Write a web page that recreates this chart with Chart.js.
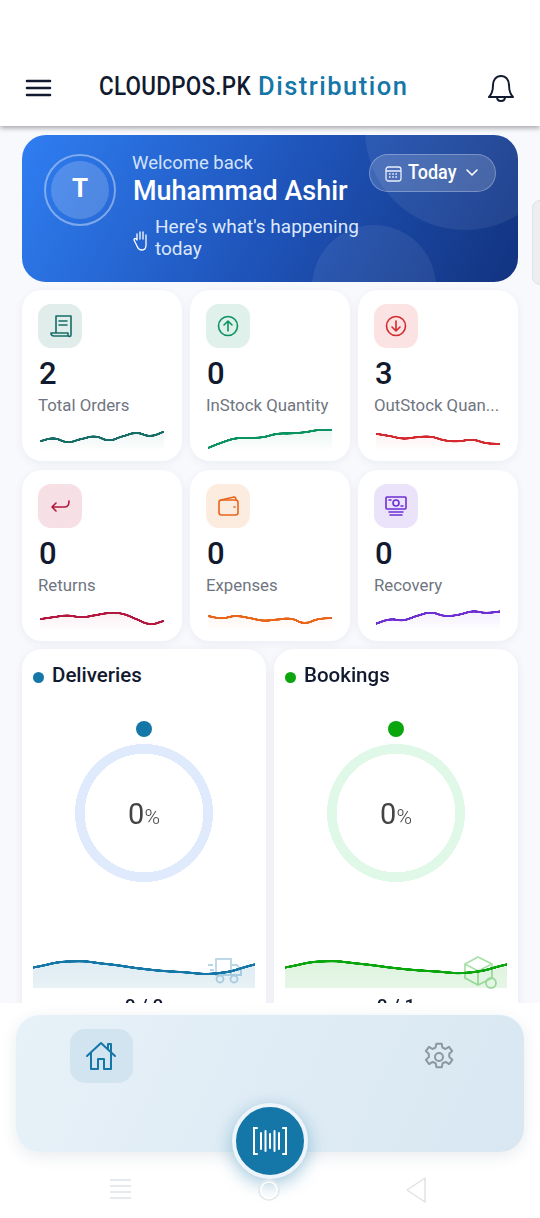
<!DOCTYPE html>
<html>
<head>
<meta charset="utf-8">
<title>CLOUDPOS.PK Distribution</title>
<script src="https://cdn.jsdelivr.net/npm/chart.js@4"></script>
<style>
  * { box-sizing: border-box; }
  html, body { margin: 0; padding: 0; }
  body {
    width: 540px; height: 1218px; position: relative; overflow: hidden;
    background: #f7f9fd; font-family: Roboto, sans-serif; color: #111a2e;
  }
  .abs, canvas { position: absolute; }
  .txt { position: absolute; white-space: nowrap; line-height: 1; }
  #topbar { left: 0; top: 0; width: 540px; height: 126px; background: #fff; box-shadow: 0 2px 5px rgba(0,0,0,.35); z-index: 3; }
  #hero {
    left: 22px; top: 135px; width: 496px; height: 147px; border-radius: 24px; overflow: hidden;
    background: linear-gradient(118deg, #2f7ef2 0%, #1f55bb 50%, #12337f 100%);
  }
  .blob { position: absolute; border-radius: 50%; background: rgba(255,255,255,.07); }
  .card { position: absolute; width: 160px; height: 171px; background: #fff; border-radius: 20px; box-shadow: 0 2px 10px rgba(20,30,70,.06); }
  .iconbox { position: absolute; left: 16px; top: 14px; width: 44px; height: 44px; border-radius: 13px; }
  .iconbox svg { position: absolute; left: 8px; top: 8px; }
  .wide { position: absolute; top: 649px; width: 244px; height: 400px; background: #fff; border-radius: 20px; box-shadow: 0 2px 10px rgba(20,30,70,.07); }
  #fade { left: 0; top: 1003px; width: 540px; height: 215px; background: #fff; z-index: 2; }
  #dock {
    left: 16px; top: 1015px; width: 508px; height: 137px; border-radius: 24px; z-index: 3;
    background: linear-gradient(115deg, #e7f1f8, #d8e7f2); box-shadow: 0 4px 16px rgba(30,60,100,.10);
  }
  #fab { left: 232px; top: 1103px; width: 76px; height: 76px; border-radius: 50%; background: #1576a8; border: 4px solid #eef5fa; box-shadow: 0 5px 18px rgba(21,118,168,.4); z-index: 4; }
</style>
</head>
<body>
<div id="topbar" class="abs">
  <svg class="abs" style="left:25px;top:78px" width="28" height="20" fill="none" stroke="#111a2e" stroke-width="2.6" stroke-linecap="round"><path d="M2 3h23M2 10h23M2 17h23"/></svg>
  <div class="txt" style="left:99px;top:74px;font-size:25.5px;font-weight:500;letter-spacing:.3px;transform:scaleX(.88);transform-origin:left">CLOUDPOS.PK</div>
  <div class="txt" style="left:258px;top:74px;font-size:25.5px;font-weight:500;letter-spacing:1.5px;color:#1576a8">Distribution</div>
  <svg class="abs" style="left:487px;top:73px" width="28" height="30" fill="none" stroke="#111a2e" stroke-width="2" stroke-linejoin="round"><path d="M14 3c-5 0-8 4-8 9 0 6-1 9-4 12h24c-3-3-4-6-4-12 0-5-3-9-8-9z"/><path d="M10 24c0 3 2 4 4 4s4-1 4-4"/></svg>
</div>

<div id="hero" class="abs">
  <div class="blob" style="left:343px;top:-105px;width:200px;height:200px"></div>
  <div class="blob" style="left:290px;top:90px;width:124px;height:124px"></div>
  <div class="abs" style="left:22px;top:19px;width:72px;height:72px;border-radius:50%;border:2px solid rgba(255,255,255,.4)"></div>
  <div class="abs" style="left:29px;top:26px;width:58px;height:58px;border-radius:50%;background:rgba(255,255,255,.18)"></div>
  <div class="txt" style="left:50px;top:40px;font-size:26px;font-weight:700;color:#fff;width:16px;text-align:center">T</div>
  <div class="txt" style="left:110px;top:19px;font-size:18.5px;color:#d3e2fb">Welcome back</div>
  <div class="txt" style="left:111px;top:42px;font-size:27.5px;font-weight:500;color:#fff;transform:scaleX(.98);transform-origin:left">Muhammad Ashir</div>
  <div class="txt" style="left:133px;top:82px;font-size:19px;color:#dce8fd">Here's what's happening</div>
  <div class="txt" style="left:133px;top:104px;font-size:19px;color:#dce8fd">today</div>
  <svg class="abs" style="left:111px;top:94px" width="16" height="22" fill="none" stroke="#fff" stroke-width="1.3" stroke-linecap="round" stroke-linejoin="round"><path d="M4 11V5M7 10V3M10 10V3M13 11V6M4 11c-1-2-3-2-3 0l3 6c1 3 3 4 5 4 3 0 4-2 4-5v-5"/></svg>
  <div class="abs" style="left:347px;top:19px;width:127px;height:38px;border-radius:19px;background:rgba(255,255,255,.16);border:1px solid rgba(255,255,255,.28)"></div>
  <svg class="abs" style="left:363px;top:30px" width="17" height="17" fill="none" stroke="#e8effc" stroke-width="1.3"><rect x="1" y="2" width="15" height="14" rx="2.5"/><path d="M1 6h15"/><path d="M4 9h9M4 12h9" stroke-dasharray="1.6 1.6"/></svg>
  <div class="txt" style="left:386px;top:27px;font-size:20px;font-weight:500;color:#fff;transform:scaleX(.9);transform-origin:left">Today</div>
  <svg class="abs" style="left:443px;top:33px" width="14" height="10" fill="none" stroke="#fff" stroke-width="1.6" stroke-linecap="round" stroke-linejoin="round"><path d="M2 2l5 5 5-5"/></svg>
</div>
<div class="abs" style="left:532px;top:200px;width:20px;height:85px;background:#eceef1;border:1px solid #dfe2e6;border-radius:8px"></div>

<div id="cards"></div>
<div id="wides"></div>

<div id="fade" class="abs"></div>
<div id="dock" class="abs">
  <div class="abs" style="left:54px;top:14px;width:63px;height:54px;border-radius:15px;background:#d2e4ef"></div>
  <svg class="abs" style="left:69px;top:25px" width="32" height="32" fill="none" stroke="#1576a8" stroke-width="2" stroke-linejoin="round" stroke-linecap="round"><path d="M2 16L16 3l14 13"/><path d="M6 13v16h7v-10h6v10h7V13"/><path d="M23 9V4h3v8"/></svg>
  <svg class="abs" style="left:407px;top:26px" width="32" height="32" viewBox="0 0 24 24" fill="none" stroke="#8c979f" stroke-width="1.5" stroke-linejoin="round"><circle cx="12" cy="12" r="3"/><path d="M10 2h4l.6 3 2.3 1 2.6-1.6 2.4 3.2-2.2 2 .1 2.5 2.2 2-2.4 3.2-2.6-1.6-2.3 1-.6 3h-4l-.6-3-2.3-1-2.6 1.6-2.4-3.2 2.2-2-.1-2.5-2.2-2 2.4-3.200 2.600 1.600 2.300-1z"/></svg>
</div>
<div id="fab" class="abs">
  <svg class="abs" style="left:16px;top:19px" width="36" height="30" fill="none" stroke="#fff" stroke-width="2" stroke-linecap="round"><path d="M5 2H2v26h3M31 2h3v26h-3"/><path d="M9 7v16M13.500 5v20M18 8v14M22.500 5v20M27 7v16"/></svg>
</div>
<svg class="abs" style="left:105px;top:1172px;z-index:5" width="330" height="36" fill="none" stroke="#dfe3e6" stroke-width="1.5"><path d="M5 8h21M5 14h21M5 20h21M5 26h21"/><circle cx="164" cy="18" r="10" stroke="#e4e9ec"/><circle cx="164" cy="18" r="8" stroke="#ffffff"/><path d="M320 6v24L302 18z" stroke-linejoin="round"/></svg>

<script>
  const sparkPoints = ["1", "2", "3", "4", "5", "6", "7", "8", "9", "10"];
  const areaPoints = ["1", "2", "3", "4", "5", "6", "7"];

  const totalOrdersTrend = [40, 50, 37, 48, 57, 44, 58, 70, 60, 75];
  const inStockTrend = [15, 35, 50, 52, 55, 67, 69, 73, 81, 81];
  const outStockTrend = [67.5, 59, 50, 55, 56, 43, 40, 45, 33, 30];
  const returnsTrend = [47.5, 55, 61, 55, 62, 70, 67, 47.5, 30, 41];
  const expensesTrend = [59, 51, 59, 52, 42.5, 46, 49, 34, 47.5, 52];
  const recoveryTrend = [31, 46, 44, 60, 71, 60, 64, 76, 71, 76];

  const deliveriesTrend = [54, 70, 63, 50, 42, 39, 62];
  const bookingsTrend = [54, 70, 64, 52, 44, 41, 62];

  const deliveriesPercent = [0, 100];
  const bookingsPercent = [0, 100];

  const statIcons = {
    orders: '<path d="M10 4h15v19c0 2-3 2-3 0v-2H5c0 2 1 3 3 3h15M10 4v17M13 9h8M13 13h8"/>',
    up: '<circle cx="14" cy="14" r="9.500"/><path d="M14 19V9M10 13l4-4 4 4"/>',
    down: '<circle cx="14" cy="14" r="9.500"/><path d="M14 9v10M10 15l4 4 4-4"/>',
    back: '<path d="M23 9c0 4-1 6-4 6H6M10 11l-4 4 4 4"/>',
    wallet: '<rect x="5" y="8" width="19" height="15" rx="2.500"/><path d="M7 8l13-3c1 0 2 1 2 3M20 15h1"/>',
    cash: '<rect x="4" y="5" width="20" height="12" rx="1"/><circle cx="14" cy="11" r="3"/><path d="M7 20h14M8 23h12M7 8h2M19 14h2"/>',
  };

  const stats = [
    { left: 22, top: 290, value: "2", label: "Total Orders", color: "#166d66", tint: "#e0edeb", icon: "orders", trend: totalOrdersTrend },
    { left: 190, top: 290, value: "0", label: "InStock Quantity", color: "#0a9361", tint: "#dff1ea", icon: "up", trend: inStockTrend },
    { left: 358, top: 290, value: "3", label: "OutStock Quan...", color: "#d42a2f", tint: "#fbe3e3", icon: "down", trend: outStockTrend },
    { left: 22, top: 470, value: "0", label: "Returns", color: "#b3173f", tint: "#f6e0e6", icon: "back", trend: returnsTrend },
    { left: 190, top: 470, value: "0", label: "Expenses", color: "#e8651a", tint: "#fcebdf", icon: "wallet", trend: expensesTrend },
    { left: 358, top: 470, value: "0", label: "Recovery", color: "#6d2fd3", tint: "#ebe3f9", icon: "cash", trend: recoveryTrend },
  ];

  function hexToRgba(hex, alpha) {
    const n = parseInt(hex.slice(1), 16);
    return "rgba(" + (n >> 16) + "," + ((n >> 8) & 255) + "," + (n & 255) + "," + alpha + ")";
  }

  function drawTrend(canvas, labels, values, color, topAlpha, bottomAlpha, lineWidth) {
    new Chart(canvas.getContext("2d"), {
      type: "line",
      data: {
        labels,
        datasets: [
          {
            data: values,
            borderColor: color,
            borderWidth: lineWidth,
            borderCapStyle: "round",
            pointRadius: 0,
            tension: 0.5,
            fill: true,
            clip: false,
            backgroundColor: (context) => {
              const gradient = context.chart.ctx.createLinearGradient(0, 0, 0, context.chart.height);
              gradient.addColorStop(0, hexToRgba(color, topAlpha));
              gradient.addColorStop(1, hexToRgba(color, bottomAlpha));
              return gradient;
            },
          },
        ],
      },
      options: {
        responsive: false,
        animation: false,
        devicePixelRatio: 3,
        layout: { padding: 0 },
        plugins: { legend: { display: false }, tooltip: { enabled: false } },
        scales: {
          x: { display: false },
          y: { display: false, min: 0, max: 100 },
        },
      },
    });
  }

  function addText(parent, text, left, top, size, color, weight) {
    const el = document.createElement("div");
    el.className = "txt";
    el.textContent = text;
    el.style.cssText = "left:" + left + "px;top:" + top + "px;font-size:" + size + "px;color:" + color + ";font-weight:" + weight;
    parent.appendChild(el);
    return el;
  }

  const cardsRoot = document.getElementById("cards");
  stats.forEach((stat) => {
    const card = document.createElement("div");
    card.className = "card";
    card.style.left = stat.left + "px";
    card.style.top = stat.top + "px";
    card.innerHTML =
      '<div class="iconbox" style="background:' + stat.tint + '"><svg width="28" height="28" fill="none" stroke="' + stat.color +
      '" stroke-width="1.600" stroke-linecap="round" stroke-linejoin="round">' + statIcons[stat.icon] + "</svg></div>";
    addText(card, stat.value, 17, 68, 31, "#111a2e", 500);
    addText(card, stat.label, 16, 107, 16.8, "#6f7580", 400);
    const canvas = document.createElement("canvas");
    canvas.width = 124;
    canvas.height = 27;
    canvas.style.left = "18px";
    canvas.style.top = "135px";
    card.appendChild(canvas);
    cardsRoot.appendChild(card);
    drawTrend(canvas, sparkPoints, stat.trend, stat.color, 0.1, 0, 2.3);
  });

  const wides = [
    { left: 22, title: "Deliveries", count: "0 / 0", color: "#1576a8", track: "#dfeafc", trend: deliveriesTrend, percent: deliveriesPercent,
      icon: '<g fill="none" stroke="#1576a8" stroke-width="1.800" opacity=".3"><rect x="9" y="3" width="15" height="16"/><path d="M24 9h6l4 6v4H24"/><circle cx="13" cy="23" r="3.500"/><circle cx="27" cy="23" r="3.500"/><path d="M1 9h5M3 14h4"/></g>', iconLeft: 185, iconTop: 956 - 649 },
    { left: 274, title: "Bookings", count: "0 / 1", color: "#0ba50e", track: "#e0f8e8", trend: bookingsTrend, percent: bookingsPercent,
      icon: '<g fill="none" stroke="#0ba50e" stroke-width="1.800" opacity=".35"><path d="M15 1L29 8v14l-14 7L2 22V8zM2 8l13 7 14-7M15 15v14"/><circle cx="28" cy="27" r="5"/></g>', iconLeft: 189, iconTop: 956 - 649 },
  ];

  const widesRoot = document.getElementById("wides");
  wides.forEach((item) => {
    const card = document.createElement("div");
    card.className = "wide";
    card.style.left = item.left + "px";
    card.innerHTML =
      '<div class="abs" style="left:11px;top:23px;width:11px;height:11px;border-radius:50%;background:' + item.color + '"></div>' +
      '<div class="abs" style="left:114px;top:72px;width:16px;height:16px;border-radius:50%;background:' + item.color + '"></div>';
    addText(card, item.title, 30, 16, 20.5, "#111a2e", 500);

    const ring = document.createElement("canvas");
    ring.width = 138;
    ring.height = 138;
    ring.style.left = "53px";
    ring.style.top = "95px";
    card.appendChild(ring);

    const pct = addText(card, "", 0, 151, 29, "#444", 400);
    pct.style.width = "244px";
    pct.style.textAlign = "center";
    pct.innerHTML = '0<span style="font-size:21px;font-weight:300">%</span>';

    const area = document.createElement("canvas");
    area.width = 222;
    area.height = 38;
    area.style.left = "11px";
    area.style.top = "301px";
    card.appendChild(area);

    const iconHolder = document.createElement("div");
    iconHolder.innerHTML = '<svg class="abs" width="36" height="34" style="left:' + item.iconLeft + "px;top:" + item.iconTop + 'px">' + item.icon + "</svg>";
    card.appendChild(iconHolder);

    const count = addText(card, item.count, 0, 347, 19, "#111a2e", 500);
    count.style.width = "244px";
    count.style.textAlign = "center";

    widesRoot.appendChild(card);

    new Chart(ring.getContext("2d"), {
      type: "doughnut",
      data: {
        labels: ["Done", "Left"],
        datasets: [
          {
            data: item.percent,
            backgroundColor: [item.color, item.track],
            borderWidth: 0,
          },
        ],
      },
      options: {
        responsive: false,
        animation: false,
        devicePixelRatio: 3,
        cutout: "86%",
        plugins: { legend: { display: false }, tooltip: { enabled: false } },
      },
    });

    drawTrend(area, areaPoints, item.trend, item.color, 0.15, 0.1, 2.6);
  });
</script>
</body>
</html>
